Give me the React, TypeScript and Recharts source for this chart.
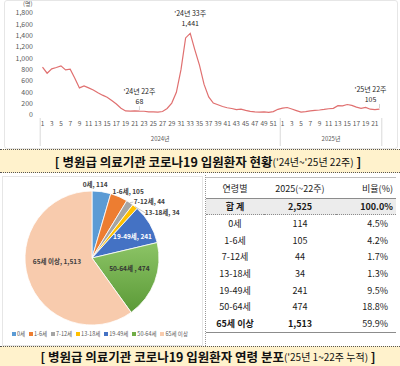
import React from 'react';
import { LineChart, Line, XAxis, YAxis, LabelList, PieChart, Pie, Cell, Legend } from 'recharts';

const FONT = '"Noto Sans CJK KR", "Noto Sans", sans-serif';

// weekly hospital-level COVID-19 inpatients
const weeks2024 = [1, 2, 3, 4, 5, 6, 7, 8, 9, 10, 11, 12, 13, 14, 15, 16, 17, 18, 19, 20, 21, 22, 23, 24, 25, 26,
  27, 28, 29, 30, 31, 32, 33, 34, 35, 36, 37, 38, 39, 40, 41, 42, 43, 44, 45, 46, 47, 48, 49, 50, 51, 52];
const weeks2025 = [1, 2, 3, 4, 5, 6, 7, 8, 9, 10, 11, 12, 13, 14, 15, 16, 17, 18, 19, 20, 21, 22];
const inpatients2024 = [844, 737, 814, 838, 867, 796, 808, 649, 478, 513, 478, 440, 392, 350, 312, 255, 195, 120,
  72, 70, 72, 68, 66, 56, 55, 52, 62, 115, 210, 400, 800, 1360, 1441, 1150, 880, 540, 320, 210, 180, 150, 128,
  115, 95, 102, 82, 65, 55, 50, 56, 48, 60, 100];
const inpatients2025 = [122, 132, 105, 78, 52, 60, 72, 82, 88, 98, 110, 118, 165, 160, 185, 170, 138, 118, 135,
  102, 95, 105];
const yTicks = [0, 200, 400, 600, 800, 1000, 1200, 1400, 1600, 1800];
const annotated = ['2024-22', '2024-33', '2025-22'];

// age distribution, 2025 weeks 1-22
const ageGroups = ['0세', '1-6세', '7-12세', '13-18세', '19-49세', '50-64세', '65세 이상'];
const ageCounts = [114, 105, 44, 34, 241, 474, 1513];
const ageColors = ['#5b9bd5', '#ed7d31', '#a5a5a5', '#ffc000', '#4472c4', 'url(#greenFill)', '#f8cbad'];
const legendColors = ['#5b9bd5', '#ed7d31', '#a5a5a5', '#ffc000', '#4472c4', '#70ad47', '#f8cbad'];
const tableHead = ['연령별', '2025(~22주)', '비율(%)'];

const weekly = [
  ...weeks2024.map((w, i) => ({ key: `2024-${w}`, year: 2024, week: w, value: inpatients2024[i] })),
  ...weeks2025.map((w, i) => ({ key: `2025-${w}`, year: 2025, week: w, value: inpatients2025[i] })),
];
const ageData = ageGroups.map((name, i) => ({ name, value: ageCounts[i] }));
const total = ageCounts.reduce((a, b) => a + b, 0);

const BAND = 337 / 73;
const fmt = (v: number) => v.toLocaleString('en-US');

const WeekTick = (props: any) => {
  const { x, y, payload } = props;
  const i = payload.index;
  const d = weekly[i];
  if (!d) return null;
  const first = weekly.findIndex((e) => e.year === d.year);
  let last = first;
  while (last + 1 < weekly.length && weekly[last + 1].year === d.year) last++;
  const mid = Math.floor((first + last) / 2);
  return (
    <g>
      {i % 2 === 0 && (
        <text x={x} y={y + 10.5} textAnchor="middle" fontSize={6.5} fill="#595959" fontFamily={FONT}>{d.week}</text>
      )}
      {i === first && <line x1={x - BAND / 2} x2={x - BAND / 2} y1={y + 3} y2={y + 31} stroke="#d9d9d9" />}
      {i === weekly.length - 1 && <line x1={x + BAND / 2} x2={x + BAND / 2} y1={y + 3} y2={y + 31} stroke="#d9d9d9" />}
      {i === mid && (
        <text x={x + BAND / 2} y={y + 26} textAnchor="middle" fontSize={6} fill="#595959" fontFamily={FONT}>{`${d.year}년`}</text>
      )}
    </g>
  );
};

const Annot = (props: any) => {
  const { x, y, index } = props;
  const d = weekly[index];
  if (!d || !annotated.includes(d.key)) return null;
  const shift = index === weekly.length - 1 ? -9 : 0;
  return (
    <g fontFamily={FONT} fontSize={7} fill="#262626" textAnchor="middle">
      <text x={x + shift} y={y - 17}>{`'${String(d.year).slice(2)}년 ${d.week}주`}</text>
      <text x={x + shift} y={y - 7}>{fmt(d.value)}</text>
      {d.value < 300 && <line x1={x} x2={x} y1={y - 5} y2={y - 1} stroke="#bfbfbf" strokeWidth={0.7} />}
    </g>
  );
};

const RAD = Math.PI / 180;
const labelSpots = [
  { r: 75, dx: -7.5, dy: 0, fill: '#404040', sep: ', ' },
  { r: 75, dx: 6, dy: 2, fill: '#404040', sep: ', ' },
  { r: 75, dx: 15, dy: 5, fill: '#404040', sep: ', ' },
  { r: 75, dx: 22, dy: 12, fill: '#404040', sep: ', ' },
  { r: 47, dx: 0, dy: 1.5, fill: '#ffffff', sep: ', ' },
  { r: 42, dx: -2, dy: -4.7, fill: '#333333', sep: ' , ' },
  { r: 40, dx: 3, dy: -9.5, fill: '#404040', sep: ', ' },
];

const PieLabel = (props: any) => {
  const { cx, cy, midAngle, index, outerRadius } = props;
  const s = labelSpots[index];
  const cos = Math.cos(-midAngle * RAD);
  const sin = Math.sin(-midAngle * RAD);
  const x = cx + s.r * cos + s.dx;
  const y = cy + s.r * sin + s.dy;
  const txt = `${ageGroups[index]}${s.sep}${fmt(ageCounts[index])}`;
  return (
    <g>
      {(index === 2 || index === 3) && (
        <line x1={cx + outerRadius * cos} y1={cy + outerRadius * sin} x2={x - 16} y2={y + 1} stroke="#a6a6a6" strokeWidth={0.6} />
      )}
      <text x={x} y={y} textAnchor="middle" dominantBaseline="central" fontSize={6.5} fontWeight={700} fill={s.fill} fontFamily={FONT}>
        {txt}
      </text>
    </g>
  );
};

const PieLegend = () => (
  <div style={{ display: 'flex', justifyContent: 'space-between', width: 176, fontFamily: FONT, fontSize: 5.5, color: '#595959' }}>
    {ageGroups.map((g, i) => (
      <span key={g} style={{ display: 'flex', alignItems: 'center', whiteSpace: 'nowrap' }}>
        <span style={{ width: 3.5, height: 3.5, background: legendColors[i], marginRight: 1.5, display: 'inline-block' }} />
        {g}
      </span>
    ))}
  </div>
);

const TitleBar = ({ top, height, main, note }: { top: number; height: number; main: string; note: string }) => (
  <div style={{
    position: 'absolute', left: 0, top, width: 400, height, boxSizing: 'border-box', background: '#fff2cc',
    borderTop: '1px dotted #555', borderBottom: '1px dotted #555', display: 'flex', alignItems: 'center',
    justifyContent: 'center', fontFamily: FONT, color: '#111', whiteSpace: 'nowrap', paddingLeft: 16,
  }}>
    <span style={{ fontWeight: 700, fontSize: 12.5 }}>{`[ ${main}`}</span>
    <span style={{ fontSize: 10 }}>{`(${note})`}</span>
    <span style={{ fontWeight: 700, fontSize: 12.5 }}>&nbsp;]</span>
  </div>
);

const cell: React.CSSProperties = { padding: 0, height: 16.7, textAlign: 'center' };

export default function App() {
  return (
    <div style={{ position: 'absolute', left: 0, top: 0, width: 400, height: 366, background: '#fff', overflow: 'hidden', fontFamily: FONT }}>
      <div style={{ position: 'absolute', left: 4, top: 0, width: 392, height: 147, border: '1px solid #e6e6e6', borderRadius: 3 }} />
      <div style={{ position: 'absolute', left: 23, top: 0.5, fontSize: 6, lineHeight: '6px', color: '#595959' }}>(명)</div>
      <div style={{ position: 'absolute', left: 0, top: 0 }}>
        <LineChart width={400} height={150} data={weekly} margin={{ top: 13, right: 18, bottom: 5, left: 0 }}>
          <XAxis dataKey="key" height={30} interval={0} tickLine={false} axisLine={false} tickSize={0} tickMargin={0}
            padding={{ left: 2.5, right: 2.5 }} tick={<WeekTick />} />
          <YAxis width={40} domain={[0, 1800]} ticks={yTicks} interval={0} tickLine={false} axisLine={false} tickSize={0}
            tickMargin={7} tickFormatter={fmt} tick={{ fontSize: 7, fill: '#595959', fontFamily: FONT }} />
          <Line dataKey="value" stroke="#e07070" strokeWidth={1.2} dot={false} isAnimationActive={false}>
            <LabelList dataKey="value" content={<Annot />} />
          </Line>
        </LineChart>
      </div>

      <TitleBar top={149} height={24} main="병원급 의료기관 코로나19 입원환자 현황" note="'24년~'25년 22주" />

      <div style={{ position: 'absolute', left: 2, top: 176, width: 199, height: 168, border: '1px solid #e6e6e6' }} />
      <div style={{ position: 'absolute', left: 205, top: 175, width: 0, height: 171, borderLeft: '1px dotted #999' }} />
      <div style={{ position: 'absolute', left: 0, top: 176 }}>
        <PieChart width={198} height={168} margin={{ top: 0, right: 0, bottom: 0, left: 0 }}>
          <defs>
            <linearGradient id="greenFill" x1="0" y1="0" x2="0" y2="1">
              <stop offset="0%" stopColor="#8cc466" />
              <stop offset="100%" stopColor="#5b9a37" />
            </linearGradient>
          </defs>
          <Pie data={ageData} dataKey="value" nameKey="name" cx={92} cy={82} outerRadius={67} startAngle={90} endAngle={-270}
            stroke="#ffffff" strokeWidth={0.8} label={PieLabel} labelLine={false} isAnimationActive={false}>
            {ageData.map((d, i) => <Cell key={d.name} fill={ageColors[i]} />)}
          </Pie>
          <Legend content={<PieLegend />} wrapperStyle={{ left: 12, top: 154, width: 176 }} />
        </PieChart>
      </div>

      <div style={{ position: 'absolute', left: 206, top: 177, width: 190 }}>
        <table style={{ borderCollapse: 'collapse', width: 190, fontSize: 9, color: '#1a1a1a', fontFamily: FONT, tableLayout: 'fixed' }}>
          <colgroup>
            <col style={{ width: 58 }} />
            <col style={{ width: 72 }} />
            <col style={{ width: 60 }} />
          </colgroup>
          <thead>
            <tr style={{ height: 20, borderTop: '1px solid #bfbfbf', borderBottom: '1px solid #8c8c8c' }}>
              <th style={{ ...cell, height: 20, fontWeight: 400 }}>{tableHead[0]}</th>
              <th style={{ ...cell, height: 20, fontWeight: 400 }}>{tableHead[1]}</th>
              <th style={{ ...cell, height: 20, fontWeight: 400, textAlign: 'right', paddingRight: 3 }}>{tableHead[2]}</th>
            </tr>
          </thead>
          <tbody>
            <tr style={{ background: '#ececec', borderBottom: '1px dotted #8c8c8c', fontWeight: 700 }}>
              <td style={{ ...cell, height: 15 }}>합 계</td>
              <td style={{ ...cell, height: 15 }}>{fmt(total)}</td>
              <td style={{ ...cell, height: 15, textAlign: 'right', paddingRight: 3 }}>{`${(100).toFixed(1)}%`}</td>
            </tr>
            {ageGroups.map((g, i) => {
              const last = i === ageGroups.length - 1;
              return (
                <tr key={g} style={last ? { borderBottom: '1px solid #8c8c8c' } : undefined}>
                  <td style={{ ...cell, fontWeight: last ? 700 : 400 }}>{last ? g.replace(' ', '  ') : g}</td>
                  <td style={{ ...cell, fontWeight: last ? 700 : 400 }}>{fmt(ageCounts[i])}</td>
                  <td style={{ ...cell, textAlign: 'right', paddingRight: 8 }}>{`${((ageCounts[i] / total) * 100).toFixed(1)}%`}</td>
                </tr>
              );
            })}
          </tbody>
        </table>
      </div>

      <TitleBar top={346} height={21} main="병원급 의료기관 코로나19 입원환자 연령 분포" note="'25년 1~22주 누적" />
    </div>
  );
}
